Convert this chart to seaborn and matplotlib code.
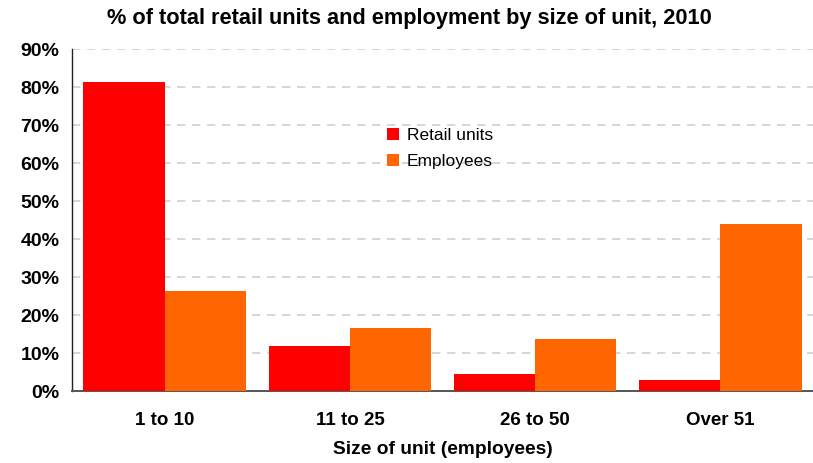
import matplotlib
matplotlib.use("Agg")
import matplotlib.pyplot as plt
import matplotlib.ticker as mticker
import numpy as np
import pandas as pd
import seaborn as sns

# Share of retail units and of employees in each size band, 2010
categories = ["1 to 10", "11 to 25", "26 to 50", "Over 51"]
retail_units = [0.813, 0.118, 0.045, 0.029]
employees = [0.264, 0.166, 0.137, 0.439]
series_names = ["Retail units", "Employees"]
y_ticks = [0.0, 0.1, 0.2, 0.3, 0.4, 0.5, 0.6, 0.7, 0.8, 0.9]

df = pd.DataFrame({
    "Size": categories * 2,
    "Share": retail_units + employees,
    "Series": [series_names[0]] * len(categories) + [series_names[1]] * len(categories),
})

sns.set_theme(style="white")
plt.rcParams["font.family"] = ["Liberation Sans", "DejaVu Sans"]
plt.rcParams["text.color"] = "black"
plt.rcParams["xtick.labelcolor"] = "black"
plt.rcParams["ytick.labelcolor"] = "black"
plt.rcParams["axes.labelcolor"] = "black"

fig = plt.figure(figsize=(8.13, 4.63), dpi=100)
ax = fig.add_axes([72 / 813, 1 - 391 / 463, 741 / 813, (391 - 49) / 463])

sns.barplot(
    data=df, x="Size", y="Share", hue="Series",
    palette={"Retail units": "#FF0000", "Employees": "#FF6600"},
    width=0.876, gap=0, saturation=1, linewidth=0, ax=ax, zorder=3,
)

ax.set_xlim(-0.5, 3.5)
ax.set_ylim(0, 0.9)
ax.set_yticks(y_ticks)
ax.yaxis.set_major_formatter(mticker.FuncFormatter(lambda v, p: f"{v * 100:.0f}%"))
ax.grid(axis="y", color="#cfcfcf", linestyle=(0, (5, 4)), linewidth=1.2, zorder=0)
ax.set_axisbelow(True)

for side in ("top", "right"):
    ax.spines[side].set_visible(False)
ax.spines["left"].set_color("#222222")
ax.spines["left"].set_linewidth(1.0)
ax.spines["bottom"].set_color("#555555")
ax.spines["bottom"].set_linewidth(1.4)

ax.tick_params(axis="y", which="major", direction="out", length=6, width=1.2,
               color="#555555", labelsize=14, pad=3)
ax.tick_params(axis="x", which="major", length=0, labelsize=13.5, pad=15)
ax.set_xticks([-0.5, 0.5, 1.5, 2.5, 3.5], minor=True)
ax.tick_params(axis="x", which="minor", direction="out", length=6, width=1.2, color="#555555")
for lbl in ax.get_xticklabels() + ax.get_yticklabels():
    lbl.set_fontweight("bold")

ax.set_xlabel("Size of unit (employees)", fontsize=13.8, fontweight="bold", labelpad=9)
ax.set_ylabel("")

ax.set_title("% of total retail units and employment by size of unit, 2010",
             fontsize=15.7, fontweight="bold", pad=18, x=0.5 - 0.045)

leg = ax.legend(loc="upper left", bbox_to_anchor=(0.404, 0.815), frameon=False,
                fontsize=12.5, handlelength=0.7, handleheight=0.7, handletextpad=0.45,
                labelspacing=0.65)
leg.set_title(None)

fig.savefig("out.png", dpi=100)
